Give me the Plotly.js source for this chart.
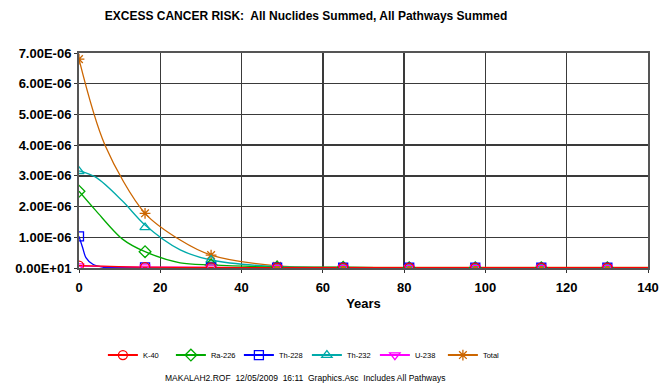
<!DOCTYPE html>
<html>
<head>
<meta charset="utf-8">
<script src="https://cdn.plot.ly/plotly-3.0.1.min.js"></script>
<style>html,body{margin:0;padding:0;background:#fff;}#chart{width:660px;height:384px;}</style>
</head>
<body>
<div id="chart"></div>
<script>
// ---- Data (values in units of 1E-06) ----
const seriesNames = ["K-40", "Ra-226", "Th-228", "Th-232", "U-238", "Total"];
const markerYears = [0, 16.25, 32.5, 48.75, 65, 81.25, 97.5, 113.75, 130];

const k40Markers   = [0.08, 0.03, 0.02, 0.01, 0.01, 0.01, 0.01, 0.01, 0.01];
const ra226Markers = [2.50, 0.53, 0.10, 0.03, 0.02, 0.01, 0.01, 0.01, 0.01];
const th228Markers = [1.03, 0.02, 0.01, 0.01, 0.01, 0.01, 0.01, 0.01, 0.01];
const th232Markers = [3.15, 1.32, 0.26, 0.04, 0.02, 0.01, 0.01, 0.01, 0.01];
const u238Markers  = [0.06, 0.03, 0.02, 0.01, 0.01, 0.01, 0.01, 0.01, 0.01];
const totalMarkers = [6.80, 1.78, 0.42, 0.07, 0.03, 0.02, 0.02, 0.02, 0.02];

// curve points
const k40CurveX   = [0, 16.25, 32.5, 48.75, 65, 81.25, 97.5, 113.75, 130, 140];
const k40CurveY   = [0.08, 0.03, 0.02, 0.01, 0.01, 0.01, 0.01, 0.01, 0.01, 0.01];
const ra226CurveX = [0, 4.2, 10.7, 16.25, 24.9, 32.5, 48.75, 65, 81.25, 97.5, 113.75, 130, 140];
const ra226CurveY = [2.50, 1.86, 0.94, 0.53, 0.17, 0.10, 0.03, 0.02, 0.01, 0.01, 0.01, 0.01, 0.01];
const th228CurveX = [0, 0.9, 1.7, 3.4, 5.8, 9, 16.25, 32.5, 48.75, 65, 81.25, 97.5, 113.75, 130, 140];
const th228CurveY = [1.03, 0.66, 0.34, 0.12, 0.03, 0.01, 0.01, 0.01, 0.01, 0.01, 0.01, 0.01, 0.01, 0.01, 0.01];
const th232CurveX = [0, 4.2, 10.7, 16.25, 24.9, 32.5, 48.75, 65, 81.25, 97.5, 113.75, 130, 140];
const th232CurveY = [3.16, 2.95, 2.18, 1.40, 0.59, 0.26, 0.04, 0.02, 0.01, 0.01, 0.01, 0.01, 0.01];
const u238CurveX  = [0, 16.25, 32.5, 48.75, 65, 81.25, 97.5, 113.75, 130, 140];
const u238CurveY  = [0.06, 0.03, 0.02, 0.01, 0.01, 0.01, 0.01, 0.01, 0.01, 0.01];
const totalCurveX = [0, 6.4, 16.25, 24.9, 32.5, 48.75, 65, 81.25, 97.5, 113.75, 130, 140];
const totalCurveY = [6.80, 4.00, 1.78, 0.91, 0.42, 0.07, 0.03, 0.02, 0.02, 0.02, 0.02, 0.02];

const yTickValues = [0, 1, 2, 3, 4, 5, 6, 7];
const yTickLabels = ["0.00E+01", "1.00E-06", "2.00E-06", "3.00E-06", "4.00E-06", "5.00E-06", "6.00E-06", "7.00E-06"];

const chartTitle = "EXCESS CANCER RISK:  All Nuclides Summed, All Pathways Summed";
const xTitle = "Years";
const footerText = "MAKALAH2.ROF  12/05/2009  16:11  Graphics.Asc  Includes All Pathways";

// ---- Styles ----
const scale = 1e-6;
const colors  = ["#FF0000", "#00AA00", "#0000FF", "#00AAAA", "#FF00FF", "#CC6600"];
const symbols = ["circle-open", "diamond-open", "square-open", "triangle-up-open", "triangle-down-open", "asterisk-open"];
const markerSets = [k40Markers, ra226Markers, th228Markers, th232Markers, u238Markers, totalMarkers];
const curveX = [k40CurveX, ra226CurveX, th228CurveX, th232CurveX, u238CurveX, totalCurveX];
const curveY = [k40CurveY, ra226CurveY, th228CurveY, th232CurveY, u238CurveY, totalCurveY];

const traces = [];
const drawOrder = [5, 3, 1, 2, 4, 0];
drawOrder.forEach(i => {
  traces.push({
    x: curveX[i], y: curveY[i].map(v => v * scale),
    mode: "lines", type: "scatter", showlegend: false, hoverinfo: "skip",
    line: {color: colors[i], width: 1.3, shape: "spline", smoothing: 0.9}
  });
});
drawOrder.forEach(i => {
  traces.push({
    x: markerYears, y: markerSets[i].map(v => v * scale),
    mode: "markers", type: "scatter", showlegend: false,
    marker: {symbol: symbols[i], size: 9, color: colors[i], line: {color: colors[i], width: 1.3}}
  });
});
// legend entries
seriesNames.forEach((name, i) => {
  traces.push({
    x: [null], y: [null], name: name, mode: "lines+markers", type: "scatter",
    line: {color: colors[i], width: 2},
    marker: {symbol: symbols[i], size: 9, color: colors[i], line: {color: colors[i], width: 1.3}}
  });
});

const layout = {
  width: 660, height: 384,
  margin: {l: 79, r: 12, t: 53, b: 116},
  paper_bgcolor: "#fff", plot_bgcolor: "#fff",
  font: {family: "Liberation Sans, Arial, sans-serif", color: "#000"},
  title: {text: "<b>" + chartTitle + "</b>", x: 306 / 660, xanchor: "center", y: 0.958, yanchor: "middle",
          font: {size: 12, color: "#000"}},
  xaxis: {
    range: [0, 140], tickmode: "linear", tick0: 0, dtick: 20,
    showgrid: true, gridcolor: "#3a3a3a", gridwidth: 1.5,
    showline: true, linecolor: "#555", linewidth: 2, mirror: true,
    zeroline: false, ticks: "outside", ticklen: 3, tickcolor: "#333",
    ticklabelstandoff: 3,
    tickfont: {size: 13, color: "#000", family: "Liberation Sans, Arial, sans-serif", weight: "bold"},
    title: {text: "<b>" + xTitle + "</b>", font: {size: 13, color: "#000"}, standoff: 5}
  },
  yaxis: {
    range: [0, 7e-6], tickmode: "array",
    tickvals: yTickValues.map(v => v * scale), ticktext: yTickLabels,
    showgrid: true, gridcolor: "#3a3a3a", gridwidth: 1.5,
    showline: true, linecolor: "#555", linewidth: 2, mirror: true,
    zeroline: false, ticks: "outside", ticklen: 3, tickcolor: "#333",
    tickfont: {size: 13, color: "#000", family: "Liberation Sans, Arial, sans-serif", weight: "bold"}
  },
  legend: {
    orientation: "h", x: 0.042, xanchor: "left", y: -0.405, yanchor: "middle",
    font: {size: 7.5, color: "#000"}, entrywidth: 23, entrywidthmode: "pixels",
    itemwidth: 30, bgcolor: "rgba(0,0,0,0)"
  },
  annotations: [{
    text: footerText, xref: "paper", yref: "paper", x: 0.397, y: -0.512,
    xanchor: "center", yanchor: "middle", showarrow: false,
    font: {size: 8.5, color: "#000"}
  }]
};

Plotly.newPlot("chart", traces, layout, {displayModeBar: false, staticPlot: true});
</script>
</body>
</html>
